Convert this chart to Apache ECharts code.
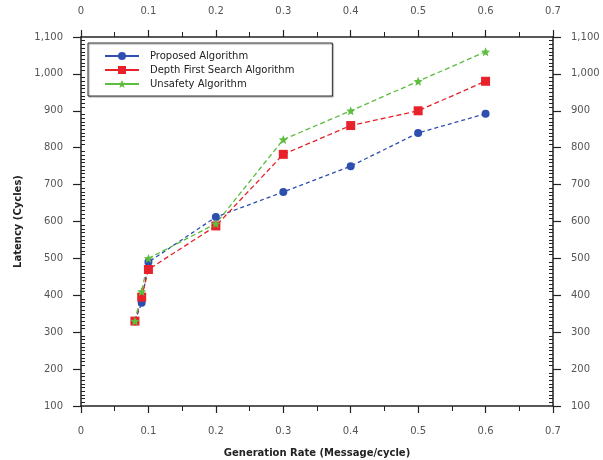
<!DOCTYPE html>
<html>
<head>
<meta charset="utf-8">
<script src="https://cdn.jsdelivr.net/npm/echarts@6/dist/echarts.min.js"></script>
<style>html,body{margin:0;padding:0;background:#fff}#c{width:603px;height:460px}</style>
</head>
<body>
<div id="c"></div>
<script>
var rates = [0.08, 0.09, 0.1, 0.2, 0.3, 0.4, 0.5, 0.6];
var proposed = [330, 380, 490, 612, 680, 750, 840, 892];
var depthFirst = [330, 395, 470, 588, 782, 860, 900, 980];
var unsafety = [330, 410, 500, 594, 822, 900, 980, 1060];
var seriesNames = ['Proposed Algorithm', 'Depth First Search Algorithm', 'Unsafety Algorithm'];
var xName = 'Generation Rate (Message/cycle)';
var yName = 'Latency (Cycles)';

function pairs(vals) { return rates.map(function (r, i) { return [r, vals[i]]; }); }

var axisColor = '#222';
var labelStyle = { color: '#555', fontSize: 10, fontFamily: 'DejaVu Sans' };
var fmtY = function (v) { return v.toLocaleString('en-US'); };

function xAxisCfg(pos, showName) {
  return {
    type: 'value', position: pos, min: 0, max: 0.7, interval: 0.1,
    name: showName ? xName : '', nameLocation: 'middle', nameGap: 42,
    nameTextStyle: { fontSize: 10, fontWeight: 'bold', color: '#222', fontFamily: 'DejaVu Sans' },
    axisLine: { show: true, onZero: false, lineStyle: { color: axisColor, width: 1.5 } },
    axisTick: { show: true, length: 7, lineStyle: { color: axisColor, width: 1.2 } },
    minorTick: { show: true, splitNumber: 2, length: 5, lineStyle: { color: axisColor, width: 1 } },
    axisLabel: Object.assign({ margin: pos === 'top' ? 21 : 20 }, labelStyle),
    splitLine: { show: false }
  };
}
function yAxisCfg(pos, withLabels) {
  return {
    type: 'value', position: pos, min: 100, max: 1100, interval: 100,
    name: (withLabels && pos === 'left') ? yName : '', nameLocation: 'middle', nameGap: 51,
    nameTextStyle: { fontSize: 10, fontWeight: 'bold', color: '#222', fontFamily: 'DejaVu Sans' },
    axisLine: { show: withLabels, onZero: false, lineStyle: { color: axisColor, width: 1.5 } },
    axisTick: withLabels ? { show: true, length: 8, lineStyle: { color: axisColor, width: 1.2 } }
                         : { show: false, inside: true },
    minorTick: { show: !withLabels, splitNumber: 10, length: 4, lineStyle: { color: axisColor, width: 1 } },
    axisLabel: withLabels ? Object.assign({ margin: 18, formatter: fmtY }, labelStyle) : { show: false },
    splitLine: { show: false }
  };
}

var star = 'path://M0,-10 L2.6,-3.6 9.5,-3.1 4.2,1.4 5.9,8.1 0,4.4 -5.9,8.1 -4.2,1.4 -9.5,-3.1 -2.6,-3.6Z';

var chart = echarts.init(document.getElementById('c'), null, { renderer: 'canvas' });
chart.setOption({
  animation: false,
  backgroundColor: '#fff',
  grid: { left: 81, right: 50, top: 37, bottom: 54, containLabel: false, outerBoundsMode: 'none' },
  xAxis: [xAxisCfg('bottom', true), xAxisCfg('top', false)],
  yAxis: [yAxisCfg('left', true), yAxisCfg('right', true), yAxisCfg('left', false), yAxisCfg('right', false)],
  legend: {
    orient: 'vertical', left: 88, top: 43,
    padding: [8, 38, 7, 16], itemGap: 4, itemWidth: 34, itemHeight: 10,
    backgroundColor: '#fff', borderColor: '#333', borderWidth: 1,
    shadowColor: 'rgba(0,0,0,0.35)', shadowOffsetX: 1, shadowOffsetY: 1, shadowBlur: 1,
    textStyle: { fontSize: 10, color: '#222', fontFamily: 'DejaVu Sans', padding: [0, 0, 0, 6] },
    lineStyle: { type: 'solid' },
    data: seriesNames
  },
  series: [
    { name: seriesNames[0], type: 'line', data: pairs(proposed), symbol: 'circle', symbolSize: 8,
      itemStyle: { color: '#2f4fae' }, lineStyle: { color: '#2f4fae', width: 1.3, type: [4, 3] } },
    { name: seriesNames[1], type: 'line', data: pairs(depthFirst), symbol: 'rect', symbolSize: 9,
      itemStyle: { color: '#e8222a' }, lineStyle: { color: '#e8222a', width: 1.3, type: [5, 3] } },
    { name: seriesNames[2], type: 'line', data: pairs(unsafety), symbol: star, symbolSize: 9,
      itemStyle: { color: '#5cbd3e' }, lineStyle: { color: '#5cbd3e', width: 1.3, type: [5, 3] } }
  ]
});
</script>
</body>
</html>
